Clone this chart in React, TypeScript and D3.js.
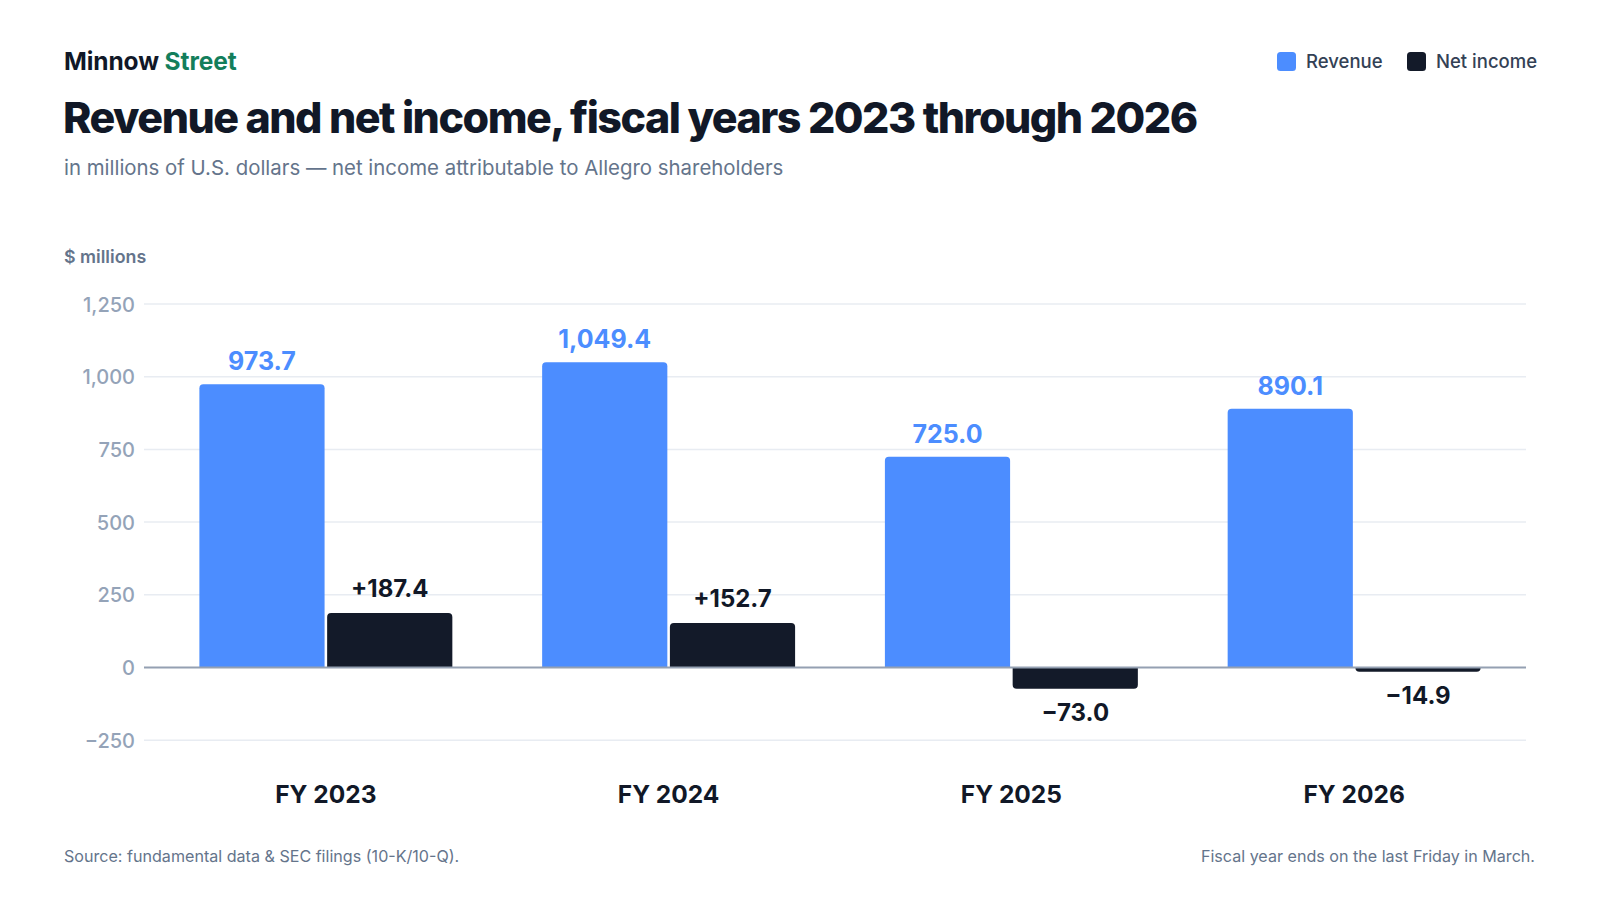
import { useEffect, useRef } from "react";
import * as d3 from "d3";

const categories = ["FY 2023", "FY 2024", "FY 2025", "FY 2026"];
const revenue = [973.7, 1049.4, 725.0, 890.1];
const netIncome = [187.4, 152.7, -73.0, -14.9];
const yTicks = [-250, 0, 250, 500, 750, 1000, 1250];
const seriesNames = ["Revenue", "Net income"];
const seriesColors = ["#4C8DFF", "#131A29"];

const WIDTH = 1600;
const HEIGHT = 900;
const FONT = "Inter, 'Noto Sans', sans-serif";

const App = () => {
  const svgRef = useRef<SVGSVGElement | null>(null);

  useEffect(() => {
    const svg = d3.select(svgRef.current);
    svg.selectAll("*").remove();

    svg
      .attr("width", WIDTH)
      .attr("height", HEIGHT)
      .style("background", "white")
      .style("font-family", FONT);

    const margin = { left: 144, right: 74 };

    // Scales
    const y = d3.scaleLinear().domain([-250, 1250]).range([740.2, 304]);

    const x0 = d3
      .scaleBand()
      .domain(categories)
      .range([margin.left + 5, WIDTH - margin.right + 5])
      .paddingInner(0.262)
      .paddingOuter(0.147);

    const x1 = d3
      .scaleBand()
      .domain(seriesNames)
      .range([0, x0.bandwidth()])
      .paddingInner(0.02);

    // Header
    const brand = svg
      .append("text")
      .attr("x", 64)
      .attr("y", 70)
      .attr("font-size", 24.5)
      .attr("font-weight", 700)
      .attr("letter-spacing", "-0.1px");
    brand.append("tspan").attr("fill", "#111827").text("Minnow ");
    brand.append("tspan").attr("fill", "#137E5B").text("Street");

    svg
      .append("text")
      .attr("x", 63)
      .attr("y", 133)
      .attr("font-size", 43)
      .attr("font-weight", 800)
      .attr("letter-spacing", "-1.5px")
      .attr("fill", "#111827")
      .text("Revenue and net income, fiscal years 2023 through 2026");

    svg
      .append("text")
      .attr("x", 64)
      .attr("y", 175)
      .attr("font-size", 20.4)
      .attr("fill", "#64748B")
      .text(
        "in millions of U.S. dollars — net income attributable to Allegro shareholders",
      );

    svg
      .append("text")
      .attr("x", 64)
      .attr("y", 263)
      .attr("font-size", 17.8)
      .attr("font-weight", 600)
      .attr("fill", "#64748B")
      .text("$ millions");

    // Legend
    const legend = svg.append("g");
    const legendItems = [
      { name: seriesNames[0], color: seriesColors[0], x: 1277 },
      { name: seriesNames[1], color: seriesColors[1], x: 1407 },
    ];
    legendItems.forEach((d) => {
      legend
        .append("rect")
        .attr("x", d.x)
        .attr("y", 52)
        .attr("width", 19)
        .attr("height", 19)
        .attr("rx", 3.5)
        .attr("fill", d.color);
      legend
        .append("text")
        .attr("x", d.x + 29)
        .attr("y", 68)
        .attr("font-size", 18.5)
        .attr("font-weight", 500)
        .attr("fill", "#334155")
        .text(d.name);
    });

    // Grid lines
    svg
      .append("g")
      .selectAll("line")
      .data(yTicks.filter((t) => t !== 0))
      .join("line")
      .attr("x1", margin.left)
      .attr("x2", WIDTH - margin.right)
      .attr("y1", (d) => y(d))
      .attr("y2", (d) => y(d))
      .attr("stroke", "#E8ECF2")
      .attr("stroke-width", 1.5);

    // Y axis labels
    const yAxis = d3
      .axisLeft(y)
      .tickValues(yTicks)
      .tickSize(0)
      .tickPadding(0)
      .tickFormat((d) => d3.format(",")(d as number).replace("-", "−"));

    svg
      .append("g")
      .attr("transform", `translate(135,0)`)
      .call(yAxis)
      .call((g) => {
        g.select(".domain").remove();
        g.selectAll("text")
          .attr("font-family", FONT)
          .attr("font-size", 20)
          .attr("font-weight", 500)
          .attr("fill", "#94A3B8")
          .attr("dy", "0.35em");
      });

    // Bars
    const rounded = (bx: number, bw: number, v: number, r: number) => {
      const y0 = y(0);
      const yv = y(v);
      const h = Math.abs(y0 - yv);
      const rr = Math.min(r, h);
      if (v >= 0) {
        return `M${bx},${y0}V${yv + rr}Q${bx},${yv} ${bx + rr},${yv}H${bx + bw - rr}Q${bx + bw},${yv} ${bx + bw},${yv + rr}V${y0}Z`;
      }
      return `M${bx},${y0}V${yv - rr}Q${bx},${yv} ${bx + rr},${yv}H${bx + bw - rr}Q${bx + bw},${yv} ${bx + bw},${yv - rr}V${y0}Z`;
    };

    const groups = svg
      .append("g")
      .selectAll("g")
      .data(categories)
      .join("g")
      .attr("transform", (d) => `translate(${x0(d)},0)`);

    groups.each(function (cat, i) {
      const g = d3.select(this);
      const values = [revenue[i], netIncome[i]];
      values.forEach((v, si) => {
        const bx = x1(seriesNames[si]) ?? 0;
        const bw = x1.bandwidth();
        g.append("path")
          .attr("d", rounded(bx, bw, v, 4))
          .attr("fill", seriesColors[si]);

        const label =
          si === 0
            ? d3.format(",.1f")(v)
            : (v >= 0 ? "+" : "−") + d3.format(".1f")(Math.abs(v));
        g.append("text")
          .attr("x", bx + bw / 2)
          .attr("y", v >= 0 ? y(v) - (si === 0 ? 14 : 16) : y(v) + 32)
          .attr("text-anchor", "middle")
          .attr("font-size", si === 0 ? 25 : 24)
          .attr("font-weight", 700)
          .attr("fill", si === 0 ? seriesColors[0] : "#111827")
          .text(label);
      });
    });

    // Zero line
    svg
      .append("line")
      .attr("x1", margin.left)
      .attr("x2", WIDTH - margin.right)
      .attr("y1", y(0))
      .attr("y2", y(0))
      .attr("stroke", "#94A0B2")
      .attr("stroke-width", 2);

    // Category labels
    svg
      .append("g")
      .selectAll("text")
      .data(categories)
      .join("text")
      .attr("x", (d) => (x0(d) ?? 0) + x0.bandwidth() / 2)
      .attr("y", 803)
      .attr("text-anchor", "middle")
      .attr("font-size", 24.5)
      .attr("font-weight", 700)
      .attr("fill", "#111827")
      .text((d) => d);

    // Footer
    svg
      .append("text")
      .attr("x", 64)
      .attr("y", 862)
      .attr("font-size", 16.1)
      .attr("fill", "#64748B")
      .text("Source: fundamental data & SEC filings (10-K/10-Q).");

    svg
      .append("text")
      .attr("x", 1535)
      .attr("y", 862)
      .attr("text-anchor", "end")
      .attr("font-size", 16.1)
      .attr("fill", "#64748B")
      .text("Fiscal year ends on the last Friday in March.");
  }, []);

  return (
    <div style={{ position: "absolute", left: 0, top: 0, width: WIDTH, height: HEIGHT }}>
      <svg ref={svgRef}></svg>
    </div>
  );
};

export default App;
